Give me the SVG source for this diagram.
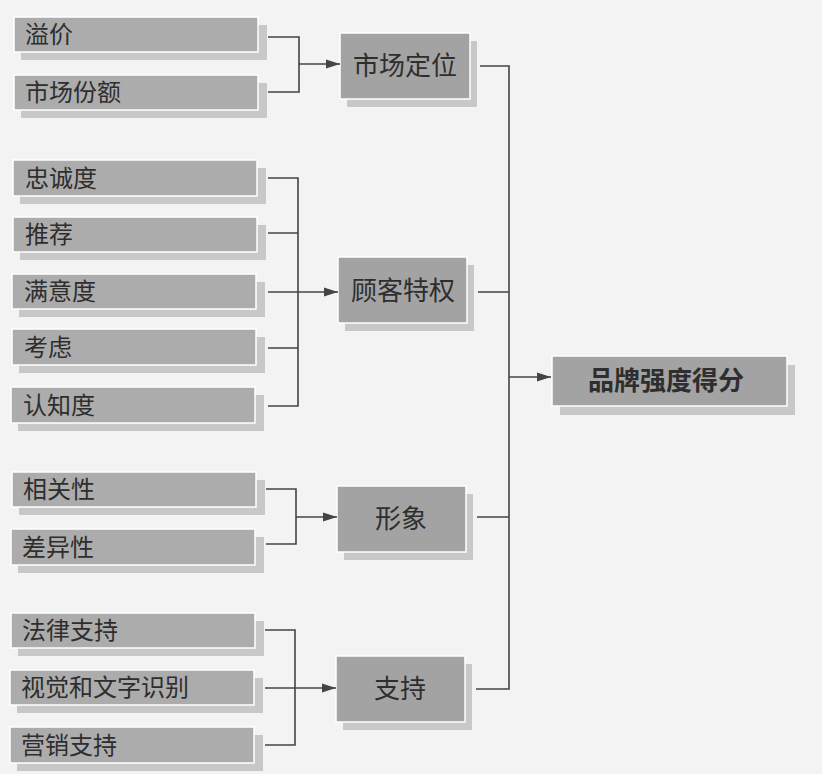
<svg xmlns="http://www.w3.org/2000/svg" width="822" height="774" viewBox="0 0 822 774">
<defs>
<style>
.bg{fill:#f3f3f3}
.sh{fill:#c8c8c8}
.bx{fill:#acacac;stroke:#ffffff;stroke-width:1.5}
.bm{fill:#a3a3a3;stroke:#ffffff;stroke-width:1.5}
.lt{font-family:"Noto Sans CJK SC","Noto Sans",sans-serif;font-size:24px;fill:#2e2e2e}
.mt{font-family:"Noto Sans CJK SC","Noto Sans",sans-serif;font-size:26px;fill:#2e2e2e;text-anchor:middle}
.bt{font-family:"Noto Sans CJK SC","Noto Sans",sans-serif;font-size:26px;font-weight:bold;fill:#2e2e2e;text-anchor:middle}
.ln{fill:none;stroke:#444444;stroke-width:1.6}
</style>
<marker id="ah" markerWidth="14" markerHeight="10" refX="14" refY="5" orient="auto" markerUnits="userSpaceOnUse">
<path d="M0,0.5 L14,5 L0,9.5 Z" fill="#444444"/>
</marker>
</defs>
<rect class="bg" x="0" y="0" width="822" height="774"/>

<g id="n-yijia"><rect class="sh" x="21" y="25" width="246" height="35"/><rect class="bx" x="14" y="17" width="244" height="35"/><text class="lt" x="25" y="43">溢价</text></g>
<g id="n-shichangfene"><rect class="sh" x="21" y="83" width="246" height="35"/><rect class="bx" x="14" y="75" width="244" height="35"/><text class="lt" x="25" y="101">市场份额</text></g>
<g id="n-zhongchengdu"><rect class="sh" x="20" y="168" width="246" height="36"/><rect class="bx" x="13" y="160" width="244" height="36"/><text class="lt" x="25" y="187">忠诚度</text></g>
<g id="n-tuijian"><rect class="sh" x="20" y="225" width="246" height="35"/><rect class="bx" x="13" y="217" width="244" height="35"/><text class="lt" x="25" y="243">推荐</text></g>
<g id="n-manyidu"><rect class="sh" x="19" y="282" width="246" height="35"/><rect class="bx" x="12" y="274" width="244" height="35"/><text class="lt" x="24" y="300">满意度</text></g>
<g id="n-kaolv"><rect class="sh" x="19" y="337" width="246" height="36"/><rect class="bx" x="12" y="329" width="244" height="36"/><text class="lt" x="24" y="356">考虑</text></g>
<g id="n-renzhidu"><rect class="sh" x="18" y="395" width="246" height="36"/><rect class="bx" x="11" y="387" width="244" height="36"/><text class="lt" x="23" y="414">认知度</text></g>
<g id="n-xiangguanxing"><rect class="sh" x="19" y="480" width="246" height="35"/><rect class="bx" x="12" y="472" width="244" height="35"/><text class="lt" x="23" y="498">相关性</text></g>
<g id="n-chayixing"><rect class="sh" x="18" y="537" width="246" height="36"/><rect class="bx" x="11" y="529" width="244" height="36"/><text class="lt" x="22" y="556">差异性</text></g>
<g id="n-falvzhichi"><rect class="sh" x="18" y="621" width="246" height="35"/><rect class="bx" x="11" y="613" width="244" height="35"/><text class="lt" x="22" y="639">法律支持</text></g>
<g id="n-shijue"><rect class="sh" x="17" y="678" width="246" height="35"/><rect class="bx" x="10" y="670" width="244" height="35"/><text class="lt" x="21" y="696">视觉和文字识别</text></g>
<g id="n-yingxiao"><rect class="sh" x="17" y="735" width="246" height="36"/><rect class="bx" x="10" y="727" width="244" height="36"/><text class="lt" x="21" y="754">营销支持</text></g>

<g id="n-shichangdingwei"><rect class="sh" x="347" y="41" width="130" height="66"/><rect class="bm" x="340" y="33" width="130" height="66"/><text class="mt" x="405" y="75">市场定位</text></g>
<g id="n-guke"><rect class="sh" x="345" y="265" width="129" height="66"/><rect class="bm" x="338" y="257" width="129" height="66"/><text class="mt" x="403" y="300">顾客特权</text></g>
<g id="n-xingxiang"><rect class="sh" x="344" y="494" width="129" height="66"/><rect class="bm" x="337" y="486" width="129" height="66"/><text class="mt" x="401" y="528">形象</text></g>
<g id="n-zhichi"><rect class="sh" x="343" y="664" width="129" height="66"/><rect class="bm" x="336" y="656" width="129" height="66"/><text class="mt" x="400" y="698">支持</text></g>
<g id="n-pinpai"><rect class="sh" x="560" y="365" width="235" height="50"/><rect class="bm" x="552" y="356" width="235" height="50"/><text class="bt" x="666" y="390">品牌强度得分</text></g>

<g id="connectors">
<path class="ln" d="M268,37 H299 V92 H268"/>
<path class="ln" d="M299,64 H340" marker-end="url(#ah)"/>
<path class="ln" d="M268,178 H298 V406 H268 M268,233 H298 M268,348 H298"/>
<path class="ln" d="M268,292 H338" marker-end="url(#ah)"/>
<path class="ln" d="M266,489 H296 V544 H266"/>
<path class="ln" d="M296,517 H337" marker-end="url(#ah)"/>
<path class="ln" d="M265,630 H295 V745 H265"/>
<path class="ln" d="M265,688 H336" marker-end="url(#ah)"/>
<path class="ln" d="M480,66 H509 V689 H476 M478,292 H509 M477,517 H509"/>
<path class="ln" d="M509,377 H551" marker-end="url(#ah)"/>
</g>
</svg>
